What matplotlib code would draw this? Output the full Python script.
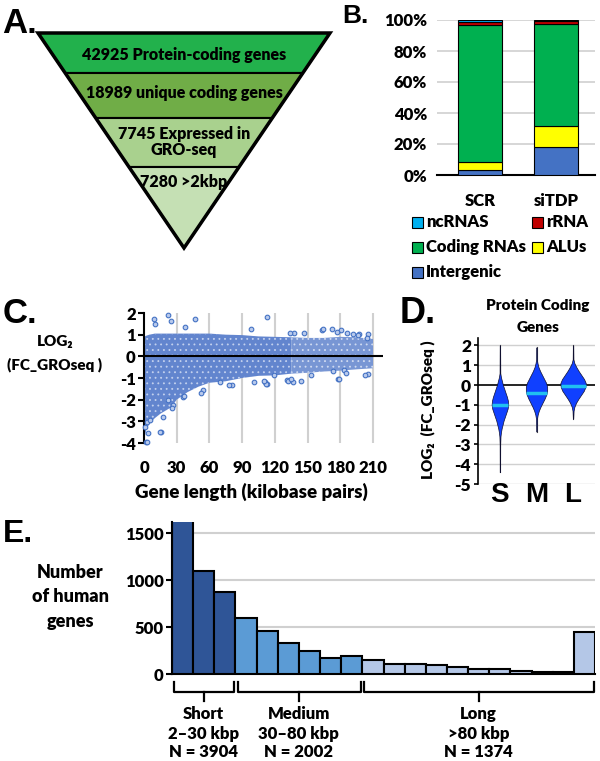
import matplotlib
matplotlib.use('Agg')
import matplotlib.pyplot as plt
from matplotlib.patches import Polygon, Rectangle
import numpy as np

# ---------------- DATA ----------------
# Panel A: funnel
funnel_labels = ["42925 Protein-coding genes", "18989 unique coding genes",
                 "7745 Expressed in\nGRO-seq", "7280 >2kbp"]
funnel_colors = ['#22B14C', '#70AD47', '#A9D18E', '#C5E0B4']

# Panel B: stacked composition (%)
b_samples = ['SCR', 'siTDP']
b_intergenic = [3.2, 18.0]
b_alus = [5.4, 13.6]
b_coding = [88.2, 65.8]
b_rrna = [1.7, 2.0]
b_ncrna = [1.5, 0.6]
b_colors = {'ncRNAS': '#00B0F0', 'rRNA': '#C00000', 'Coding RNAs': '#00B050',
            'ALUs': '#FFFF00', 'Intergenic': '#4472C4'}

# Panel C: dense cloud envelope (kbp, log2 FC) and individual scattered points
c_env_x = [0, 2, 5, 10, 15, 20, 25, 30, 40, 50, 60, 75, 90, 105, 120, 135, 150, 165, 180, 195, 210]
c_env_hi = [0.9, 0.95, 1.0, 1.05, 1.05, 1.05, 1.05, 1.05, 1.05, 1.05, 1.05, 1.0, 0.98, 0.92,
            0.9, 0.88, 0.85, 0.85, 0.9, 0.88, 0.8]
c_env_lo = [-3.9, -3.4, -3.1, -2.85, -2.65, -2.5, -2.35, -2.0, -1.65, -1.4, -1.22, -1.15,
            -1.0, -0.9, -0.88, -0.8, -0.76, -0.7, -0.66, -0.6, -0.55]
c_dense_limit = 135  # kbp: beyond this the cloud is sparser
c_pts_x = [9.2, 10.1, 21.7, 24.4, 46.8, 37.6, 113, 97.7, 163, 181, 186, 197, 205, 138,
           178, 205, 183, 131, 137, 111, 112.6, 100.5, 80.8, 54.4, 36, 27, 22.3, 17.7,
           15.3, 4, 1.9, 2.4, 15, 3, 52, 37, 26, 78, 69.7, 5.5, 0.9, 164.4, 172.7,
           177.3, 134, 146.8, 191.7, 196, 204.4, 111.8, 110, 132, 135, 143.6, 153,
           179, 185.6, 203, 173.6, 119]
c_pts_y = [1.74, 1.5, 1.89, 1.63, 1.74, 1.35, 1.81, 1.26, 1.23, 1.23, 1.07, 1.04, 1.04,
           1.07, -1.03, -0.83, -0.65, -1.1, -1.18, -1.18, -1.26, -1.18, -1.3, -1.57,
           -1.87, -2.26, -2.03, -2.8, -3.5, -3.56, -3.95, -3.03, -3.49, -3.95, -1.67,
           -1.83, -2.4, -1.31, -1.18, -2.95, -3.26, 1.24, 1.24, 1.12, 1.09, 1.09, 1.05,
           1.0, 0.85, -1.26, -1.15, -1.15, -1.06, -1.12, -0.84, -1.03, -0.75, -0.84,
           -0.66, -0.87]
c_xticks = [0, 30, 60, 90, 120, 150, 180, 210]

# Panel D: violin outlines (y level, half width in category units) and medians
d_groups = ['S', 'M', 'L']
d_S_y = [2.0, 0.6, 0.4, 0.2, 0.0, -0.2, -0.4, -0.6, -0.8, -1.0, -1.2, -1.4, -1.6, -1.8,
         -2.0, -2.2, -2.4, -2.6, -3.0, -4.4]
d_S_w = [0.005, 0.009, 0.027, 0.055, 0.082, 0.119, 0.155, 0.192, 0.219, 0.228, 0.21,
         0.174, 0.137, 0.1, 0.073, 0.046, 0.027, 0.014, 0.007, 0.005]
d_M_y = [1.9, 1.3, 1.1, 0.9, 0.7, 0.5, 0.3, 0.1, -0.1, -0.3, -0.5, -0.7, -0.9, -1.1,
         -1.3, -1.5, -1.7, -2.35]
d_M_w = [0.005, 0.009, 0.027, 0.055, 0.1, 0.155, 0.21, 0.265, 0.292, 0.292, 0.265,
         0.219, 0.164, 0.11, 0.064, 0.032, 0.014, 0.005]
d_L_y = [2.0, 1.3, 1.1, 0.9, 0.7, 0.5, 0.3, 0.1, -0.1, -0.3, -0.5, -0.7, -0.9, -1.1,
         -1.3, -1.7]
d_L_w = [0.005, 0.009, 0.037, 0.091, 0.155, 0.228, 0.301, 0.347, 0.338, 0.292, 0.219,
         0.146, 0.082, 0.037, 0.014, 0.005]
d_medians = [-1.0, -0.38, -0.05]

# Panel E: histogram of gene lengths
e_counts = [1928, 1100, 876, 600, 460, 330, 245, 175, 192, 150, 110, 110, 96, 74, 60,
            60, 39, 21, 21, 447]
e_groups = ['Short', 'Medium', 'Long']
e_group_sizes = [3, 6, 11]
e_group_ranges = ['2–30 kbp', '30–80 kbp', '>80 kbp']
e_group_N = [3904, 2002, 1374]
e_group_colors = ['#2F5597', '#5B9BD5', '#B4C7E7']

# ---------------- STYLE ----------------
plt.rcParams['font.family'] = ['Lato', 'DejaVu Sans']
plt.rcParams['font.weight'] = 'heavy'
plt.rcParams['hatch.linewidth'] = 0.6
TXT = 12
LETTER = dict(family=['Liberation Sans', 'DejaVu Sans'], weight='bold')
GRID = '#D0D0D0'

W, H = 600, 761
fig = plt.figure(figsize=(W / 100, H / 100), dpi=100)


def fax(x0, y0, x1, y1):
    ax = fig.add_axes([x0 / W, 1 - y1 / H, (x1 - x0) / W, (y1 - y0) / H])
    ax.patch.set_alpha(0)
    return ax


ov = fig.add_axes([0, 0, 1, 1])
ov.set_xlim(0, W)
ov.set_ylim(H, 0)
ov.axis('off')

# ---------------- PANEL A ----------------
top, apex_y, cx, half = 33, 248, 184, 146
bounds = [33, 73, 118, 167, 248]


def hw(y):
    return half * (apex_y - y) / (apex_y - top)


for i in range(4):
    y0, y1 = bounds[i], bounds[i + 1]
    poly = [(cx - hw(y0), y0), (cx + hw(y0), y0), (cx + hw(y1), y1), (cx - hw(y1), y1)]
    ov.add_patch(Polygon(poly, closed=True, fc=funnel_colors[i], ec='black', lw=1.5))
ov.add_patch(Polygon([(cx - half, top), (cx + half, top), (cx, apex_y)], closed=True,
                     fill=False, ec='black', lw=2.5))
text_y = [55, 93, 142, 182]
for lab, ty in zip(funnel_labels, text_y):
    ov.text(cx, ty, lab, ha='center', va='center', fontsize=11.5, linespacing=1.0)

ov.text(2, 33, 'A.', fontsize=25, va='baseline', **LETTER)
ov.text(342, 23, 'B.', fontsize=19, va='baseline', **LETTER)
ov.text(3, 323, 'C.', fontsize=25, va='baseline', **LETTER)
ov.text(400, 323, 'D.', fontsize=26, va='baseline', **LETTER)
ov.text(3, 542, 'E.', fontsize=23, va='baseline', **LETTER)

# ---------------- PANEL B ----------------
axB = fax(437, 20, 595, 175)
xb = np.arange(len(b_samples))
stack = [('Intergenic', b_intergenic), ('ALUs', b_alus), ('Coding RNAs', b_coding),
         ('rRNA', b_rrna), ('ncRNAS', b_ncrna)]
bottom = np.zeros(len(b_samples))
for name, vals in stack:
    axB.bar(xb, vals, 0.59, bottom=bottom, color=b_colors[name], edgecolor='black',
            lw=0.8, zorder=3)
    bottom += np.array(vals)
axB.set_xlim(-0.566, 1.513)
axB.set_ylim(0, 100)
axB.set_yticks(range(0, 101, 20))
axB.set_yticklabels([f'{v}%' for v in range(0, 101, 20)], fontsize=TXT)
axB.set_xticks(xb)
axB.set_xticklabels(b_samples, fontsize=TXT)
axB.yaxis.grid(True, color=GRID, lw=1.2, zorder=0)
for s in ['left', 'right', 'top']:
    axB.spines[s].set_visible(False)
axB.spines['bottom'].set_linewidth(1.5)
axB.tick_params(axis='y', length=0, pad=7)
axB.tick_params(axis='x', length=0, pad=13)

legend_items = [('ncRNAS', 412, 222), ('rRNA', 532, 222), ('Coding RNAs', 412, 247),
                ('ALUs', 532, 247), ('Intergenic', 412, 272)]
for name, lx, ly in legend_items:
    ov.add_patch(Rectangle((lx, ly - 5.5), 11, 11, fc=b_colors[name], ec='black', lw=0.8))
    ov.text(lx + 14, ly, name, ha='left', va='center', fontsize=TXT)

# ---------------- PANEL C ----------------
xr = 219
axC = fax(144, 313, 144 + xr * 1.0905, 443)
axC.set_xlim(0, xr)
axC.set_ylim(-4, 2)
for xv in c_xticks[1:]:
    axC.axvline(xv, color=GRID, lw=1.5, zorder=0)
ex = np.array(c_env_x)
axC.fill_between(ex, c_env_lo, c_env_hi, where=ex <= c_dense_limit, facecolor='#6285CE',
                 edgecolor='#C3D1EE', hatch='...', lw=0, zorder=2)
axC.fill_between(ex, c_env_lo, c_env_hi, where=ex >= c_dense_limit, facecolor='#7896D4',
                 edgecolor='#D0DBF1', hatch='...', lw=0, zorder=2)
axC.scatter(c_pts_x, c_pts_y, s=11, facecolor='#B9CAEC', edgecolor='#4472C4', lw=0.8,
            zorder=3, clip_on=False)
axC.axhline(0, color='black', lw=1.5, zorder=4)
for s in ['right', 'top', 'bottom']:
    axC.spines[s].set_visible(False)
axC.spines['left'].set_linewidth(1.5)
axC.set_yticks(range(-4, 3))
axC.set_yticklabels([str(v) for v in range(-4, 3)], fontsize=TXT)
axC.tick_params(axis='y', length=4, width=1.5, pad=2)
axC.set_xticks(c_xticks)
axC.set_xticklabels([str(v) for v in c_xticks], fontsize=TXT)
axC.tick_params(axis='x', length=0, pad=12)
ov.text(251, 492, 'Gene length (kilobase pairs)', ha='center', va='center', fontsize=13.5)
ov.text(55, 342, 'LOG₂', ha='center', va='center', fontsize=11)
ov.text(55, 365, '(FC_GROseq )', ha='center', va='center', fontsize=11)

# ---------------- PANEL D ----------------
axD = fax(478, 337.5, 595, 484)
axD.set_xlim(-0.6, 2.6)
axD.set_ylim(-5, 2.4)
for yv in range(-5, 3):
    if yv != 0:
        axD.axhline(yv, color=GRID, lw=1.0, zorder=0)
axD.axhline(0, color='black', lw=1.2, zorder=1)
profiles = [(d_S_y, d_S_w), (d_M_y, d_M_w), (d_L_y, d_L_w)]
for i, (py, pw) in enumerate(profiles):
    py = np.array(py)
    pw = np.array(pw)
    axD.plot([i, i], [py.min(), py.max()], color='#505050', lw=0.8, zorder=2)
    axD.fill_betweenx(py, i - pw, i + pw, facecolor='#1040FF', edgecolor='#101030',
                      lw=0.5, zorder=3)
    wm = np.interp(d_medians[i], py[::-1], pw[::-1])
    axD.plot([i - wm, i + wm], [d_medians[i]] * 2, color='#20C0F0', lw=2.5, zorder=4,
             solid_capstyle='butt')
for s in ['right', 'top', 'bottom']:
    axD.spines[s].set_visible(False)
axD.spines['left'].set_linewidth(1.2)
axD.set_yticks(range(-5, 3))
axD.set_yticklabels([str(v) for v in range(-5, 3)], fontsize=12.5)
axD.tick_params(axis='y', length=3, width=1.2, pad=2)
axD.set_xticks([])
for i, g in enumerate(d_groups):
    axD.text(i, -5.91, g, ha='center', va='baseline', fontsize=20, clip_on=False, **LETTER)
ov.text(538, 305, 'Protein Coding', ha='center', va='center', fontsize=11)
ov.text(538, 327, 'Genes', ha='center', va='center', fontsize=11)
ov.text(428, 410, 'LOG₂  (FC_GROseq )', ha='center', va='center', rotation=90, fontsize=11)

# ---------------- PANEL E ----------------
ytop = 1620
axE = fax(172, 522, 595, 674.3)
nb = len(e_counts)
bar_colors = []
for c, n in zip(e_group_colors, e_group_sizes):
    bar_colors += [c] * n
axE.bar(np.arange(nb) + 0.5, e_counts, 1.0, color=bar_colors, edgecolor='black', lw=1.5,
        zorder=3)
axE.set_xlim(0, nb)
axE.set_ylim(0, ytop)
for yv in [500, 1000, 1500]:
    axE.axhline(yv, color=GRID, lw=1.5, zorder=0)
for s in ['right', 'top']:
    axE.spines[s].set_visible(False)
axE.spines['left'].set_linewidth(1.5)
axE.spines['bottom'].set_linewidth(1.5)
axE.spines['left'].set_zorder(5)
axE.set_yticks([0, 500, 1000, 1500])
axE.set_yticklabels(['0', '500', '1000', '1500'], fontsize=TXT)
axE.tick_params(axis='y', length=4, width=1.5, pad=2)
axE.set_xticks([])

unit = ytop / (674.3 - 522)  # data units per pixel
start = 0
for gi, n in enumerate(e_group_sizes):
    x0, x1 = start + 0.1, start + n - 0.05
    xm = start + n / 2
    yb = -18 * unit
    ye = -8 * unit
    ym = -27 * unit
    axE.plot([x0, x0, x1, x1], [ye, yb, yb, ye], color='black', lw=1.6, clip_on=False,
             solid_joinstyle='round')
    axE.plot([xm, xm], [yb, ym], color='black', lw=1.6, clip_on=False)
    axE.text(xm, -40 * unit, e_groups[gi], ha='center', va='center', fontsize=TXT,
             clip_on=False)
    axE.text(xm, -60 * unit, e_group_ranges[gi], ha='center', va='center', fontsize=TXT,
             clip_on=False)
    axE.text(xm, -78 * unit, f'N = {e_group_N[gi]}', ha='center', va='center',
             fontsize=TXT, clip_on=False)
    start += n

ov.text(70, 573, 'Number', ha='center', va='center', fontsize=13)
ov.text(70, 597, 'of human', ha='center', va='center', fontsize=13)
ov.text(70, 622, 'genes', ha='center', va='center', fontsize=13)

fig.savefig('out.png', dpi=100)
